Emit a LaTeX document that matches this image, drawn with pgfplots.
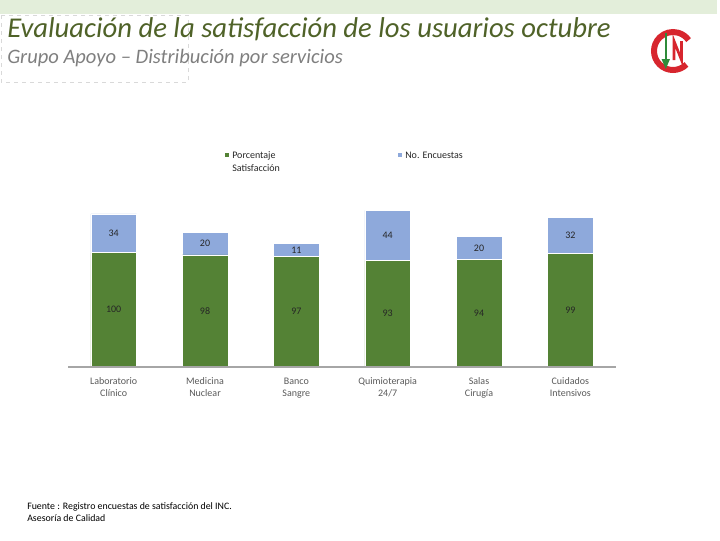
\documentclass[border=0pt]{standalone}
\usepackage{pgfplots}
\pgfplotsset{compat=1.18}
\usepackage{fontspec}
\setmainfont{Carlito}
\definecolor{bargreen}{HTML}{548235}
\definecolor{barblue}{HTML}{8EA9DB}
\definecolor{titlegreen}{HTML}{4F6228}
\definecolor{subgray}{HTML}{7F7F7F}
\definecolor{band}{HTML}{E3EEDA}
\definecolor{axisgray}{HTML}{A6A6A6}
\definecolor{labgray}{HTML}{595959}
\definecolor{logored}{HTML}{D7262E}
\definecolor{logogreen}{HTML}{2E8B3A}
\begin{document}
\begin{tikzpicture}
\begin{scope}[x=0.75pt,y=-0.75pt]
\useasboundingbox (0,0) rectangle (720,540);
\fill[band] (0,0) rectangle (717,14);
\draw[gray!30, dashed, line width=0.5pt] (1,15) rectangle (188,82);
\node[anchor=base west, inner sep=0, font=\fontsize{21.5}{23}\selectfont\itshape, text=titlegreen] at (7,37) {Evaluación de la satisfacción de los usuarios octubre};
\node[anchor=base west, inner sep=0, font=\fontsize{15.4}{17}\selectfont\itshape, text=subgray] at (7,63) {Grupo Apoyo – Distribución por servicios};
% logo
\draw[logored, line width=4.5pt] (673,51) ++(45:19) arc[start angle=45, end angle=325, radius=19];
\fill[logogreen] (664.5,33) rectangle (667,61);
\fill[logogreen] (661.5,59) -- (670,59) -- (665.75,69) -- cycle;
\draw[logored, line width=2pt] (674,60) -- (674,41) -- (681.5,60) -- (681.5,41);
% legend
\fill[bargreen] (225,153) rectangle (229,157);
\node[anchor=base west, inner sep=0, font=\fontsize{7.5}{9}\selectfont, text=black!85] at (232,158.5) {Porcentaje};
\node[anchor=base west, inner sep=0, font=\fontsize{7.5}{9}\selectfont, text=black!85] at (232,171.5) {Satisfacción};
\fill[barblue] (398,153) rectangle (402,157);
\node[anchor=base west, inner sep=0, font=\fontsize{7.5}{9}\selectfont, text=black!85] at (405,158.5) {No. Encuestas};
% footer
\node[anchor=base west, inner sep=0, font=\fontsize{7.4}{9}\selectfont, text=black] at (27,509.5) {Fuente : Registro encuestas de satisfacción del INC.};
\node[anchor=base west, inner sep=0, font=\fontsize{7.4}{9}\selectfont, text=black] at (27,521.5) {Asesoría de Calidad};
\end{scope}
\begin{axis}[
  at={(51pt,-275pt)}, anchor=south west,
  scale only axis, width=411pt, height=128.25pt,
  ybar stacked, bar width=0.5,
  xmin=-0.5, xmax=5.5, ymin=0, ymax=150,
  enlargelimits=false,
  axis y line=none, axis x line*=bottom,
  x axis line style={axisgray, line width=1.5pt, -},
  axis on top,
  xtick=data,
  xticklabels={{Laboratorio\\Clínico},{Medicina\\Nuclear},{Banco\\Sangre},{Quimioterapia\\24/7},{Salas\\Cirugía},{Cuidados\\Intensivos}},
  major tick length=0pt,
  xticklabel style={align=center, font=\fontsize{7.5}{9}\selectfont, text=labgray, yshift=-5pt},
  /pgf/number format/assume math mode=true,
  visualization depends on=rawy \as \rawy,
  nodes near coords={\pgfmathprintnumber{\rawy}},
  every node near coord/.append style={anchor=center, font=\fontsize{7.5}{9}\selectfont, text=black!85},
  clip=false,
]
\addplot[fill=bargreen, draw=white, line width=0.5pt] coordinates {(0,100) (1,98) (2,97) (3,93) (4,94) (5,99)};
\addplot[fill=barblue, draw=white, line width=0.5pt] coordinates {(0,34) (1,20) (2,11) (3,44) (4,20) (5,32)};
\end{axis}
\end{tikzpicture}
\end{document}
